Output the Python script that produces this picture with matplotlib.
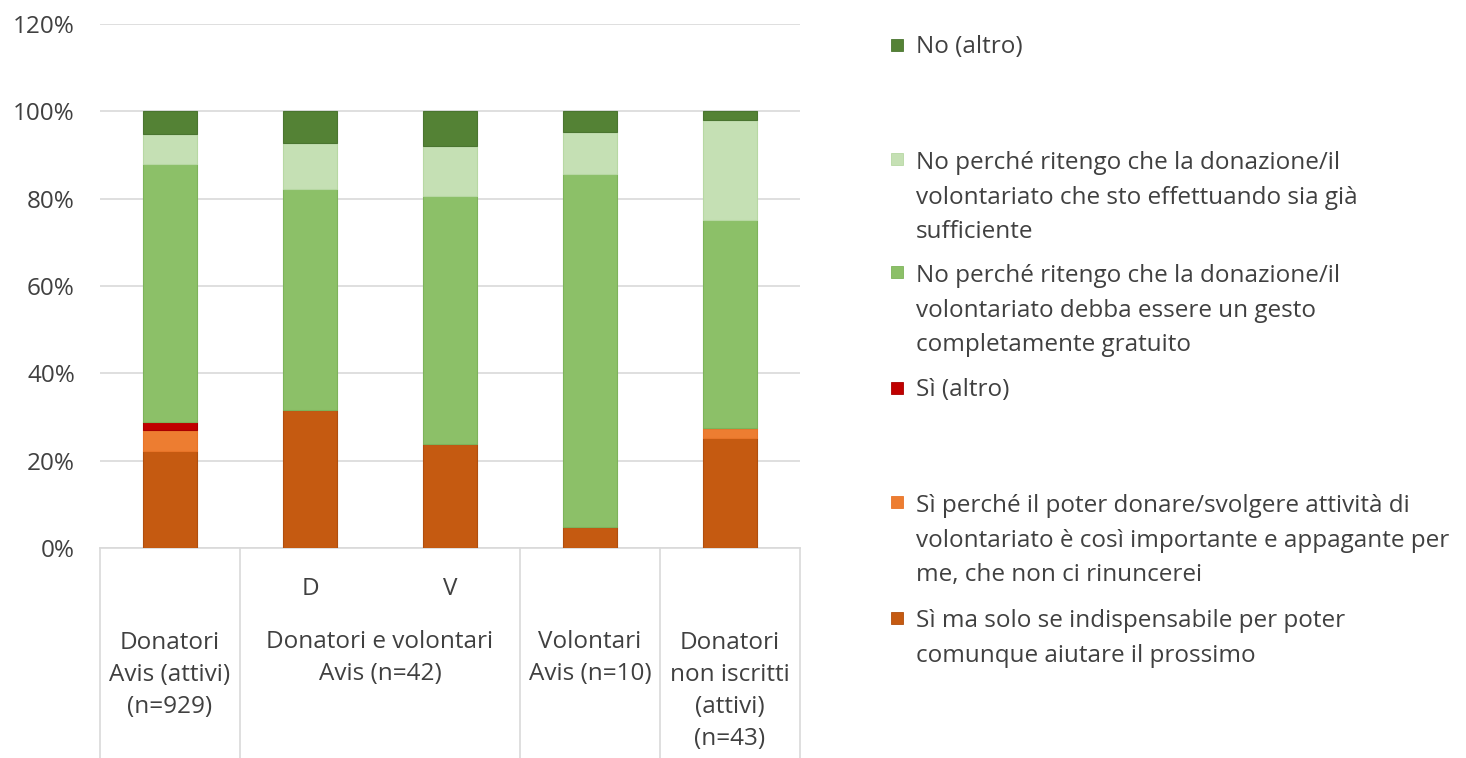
import numpy as np
import matplotlib
matplotlib.use("Agg")
import matplotlib.pyplot as plt
from matplotlib.patches import Rectangle
from matplotlib.transforms import blended_transform_factory

plt.rcParams['font.family'] = ['Open Sans', 'DejaVu Sans']

# bars, left to right (percent)
bar_keys = ['avis', 'dv_d', 'dv_v', 'vol', 'nonisc']
si_solo = [22.2, 31.6, 23.9, 4.9, 25.3]
si_importante = [4.8, 0.0, 0.0, 0.0, 2.1]
si_altro = [1.8, 0.0, 0.0, 0.0, 0.0]
no_gratuito = [59.2, 50.5, 56.7, 80.7, 47.8]
no_sufficiente = [6.9, 10.7, 11.5, 9.7, 22.8]
no_altro = [5.1, 7.2, 7.9, 4.7, 2.0]

series = [si_solo, si_importante, si_altro, no_gratuito, no_sufficiente, no_altro]
labels = [
    'Sì ma solo se indispensabile per poter\ncomunque aiutare il prossimo',
    'Sì perché il poter donare/svolgere attività di\nvolontariato è così importante e appagante per\nme, che non ci rinuncerei',
    'Sì (altro)',
    'No perché ritengo che la donazione/il\nvolontariato debba essere un gesto\ncompletamente gratuito',
    'No perché ritengo che la donazione/il\nvolontariato che sto effettuando sia già\nsufficiente',
    'No (altro)',
]
colors = ['#C55A11', '#ED7D31', '#C00000', '#8CC068', '#C5E0B4', '#548235']
edges = ['#B04E0E', '#E87428', '#A80000', '#7DB35A', '#B7D8A3', '#4A7530']

sub_labels = ['', 'D', 'V', '', '']
group_labels = ['Donatori\nAvis (attivi)\n(n=929)', 'Donatori e volontari\nAvis (n=42)',
                'Volontari\nAvis (n=10)', 'Donatori\nnon iscritti\n(attivi)\n(n=43)']
group_centers = [0, 1.5, 3, 4]
separators = [-0.5, 0.5, 2.5, 3.5, 4.5]

W, H = 1466, 758
FS = 17.5
TXT = '#404040'

fig = plt.figure(figsize=(W / 100, H / 100), dpi=100)
ax = fig.add_axes([100 / W, 210 / H, 700 / W, 524 / H])

x = np.arange(len(bar_keys))
bottom = np.zeros(len(x))
for vals, col, ec in zip(series, colors, edges):
    v = np.array(vals)
    ax.bar(x, v, 0.39, bottom=bottom, color=col, edgecolor=ec, linewidth=0.8, zorder=3)
    bottom += v

ax.set_xlim(-0.5, 4.5)
ax.set_ylim(0, 120)
ax.set_yticks(np.arange(0, 121, 20))
ax.set_yticklabels([f'{t}%' for t in range(0, 121, 20)], fontsize=FS, color=TXT)
ax.tick_params(axis='y', length=0, pad=18)
ax.set_xticks([])
ax.grid(axis='y', color='#D9D9D9', linewidth=1.2, zorder=0)
for s in ['top', 'right', 'left']:
    ax.spines[s].set_visible(False)
ax.spines['bottom'].set_color('#D9D9D9')
ax.spines['bottom'].set_linewidth(1.2)

# category axis below the plot (va=baseline sits on the last line)
tr = blended_transform_factory(ax.transData, fig.transFigure)
for sx in separators:
    ax.plot([sx, sx], [1 - 548 / H, 0], color='#D9D9D9', linewidth=1.2, transform=tr, clip_on=False)
for xi, s in zip(x, sub_labels):
    if s:
        ax.text(xi, 1 - 595 / H, s, transform=tr, ha='center', va='baseline', fontsize=FS, color=TXT)
cat_pitch = 32.4
for gx, g in zip(group_centers, group_labels):
    n = g.count('\n')
    ax.text(gx, 1 - (648 + n * cat_pitch) / H, g, transform=tr, ha='center', va='baseline',
            fontsize=FS, color=TXT, linespacing=1.45)

# legend, top to bottom as in the original
legend_y = [45, 159, 272, 388, 502, 618]
leg_pitch = 35.5
for i, yy in enumerate(legend_y):
    k = len(series) - 1 - i
    n = labels[k].count('\n')
    fig.patches.append(Rectangle((891 / W, 1 - (yy + 6) / H), 12 / W, 12 / H,
                                 transform=fig.transFigure, facecolor=colors[k],
                                 edgecolor=edges[k], linewidth=0.6))
    fig.text(916 / W, 1 - (yy + 8 + n * leg_pitch) / H, labels[k], ha='left', va='baseline',
             fontsize=FS, color=TXT, linespacing=1.58)

fig.savefig('out.png', dpi=100, facecolor='white')
